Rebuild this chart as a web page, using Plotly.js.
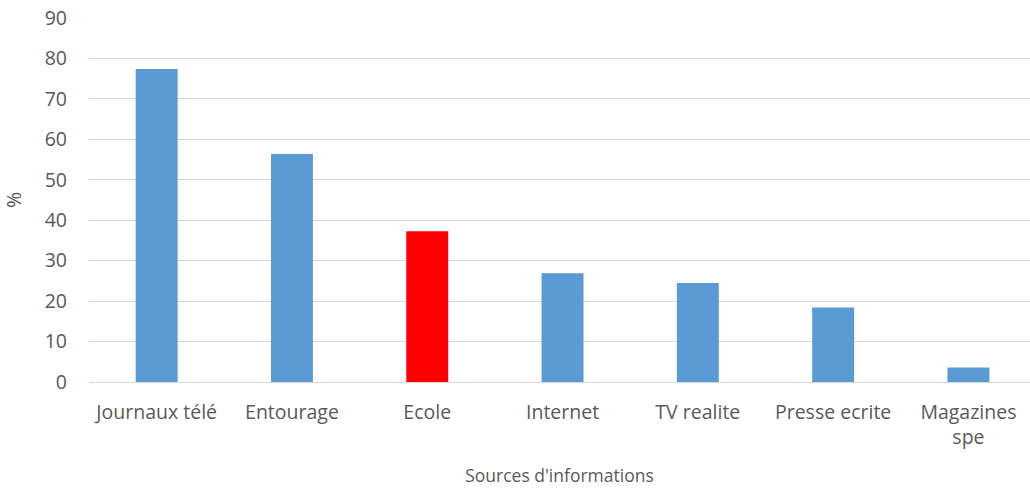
<!DOCTYPE html>
<html>
<head>
<meta charset="utf-8">
<script src="https://cdn.plot.ly/plotly-3.0.1.min.js"></script>
<style>html,body{margin:0;padding:0;background:#fff;}#chart{width:1030px;height:491px;}</style>
</head>
<body>
<div id="chart"></div>
<script>
const categories = ["Journaux télé", "Entourage", "Ecole", "Internet", "TV realite", "Presse ecrite", "Magazines<br>spe"];
const values = [77.4, 56.4, 37.3, 26.9, 24.5, 18.4, 3.6];
const barColors = ["#5B9BD5", "#5B9BD5", "#FF0000", "#5B9BD5", "#5B9BD5", "#5B9BD5", "#5B9BD5"];
const yTicks = [0, 10, 20, 30, 40, 50, 60, 70, 80, 90];

const fam = "Open Sans, Liberation Sans, sans-serif";
const txt = "#595959";

Plotly.newPlot("chart", [{
  type: "bar",
  x: categories,
  y: values,
  width: 0.31,
  marker: {color: barColors, line: {width: 0}},
  hoverinfo: "x+y"
}], {
  width: 1030, height: 491,
  margin: {l: 89, r: 0, t: 18, b: 109},
  paper_bgcolor: "#fff", plot_bgcolor: "#fff",
  showlegend: false,
  font: {family: fam, color: txt},
  xaxis: {
    type: "category",
    range: [-0.5, 6.455],
    tickfont: {family: fam, size: 19.5, color: txt},
    showgrid: false, zeroline: false, showline: false,
    ticks: "", ticklen: 0, ticklabelstandoff: 16,
    title: {text: "Sources d'informations", font: {family: fam, size: 17.5, color: txt}, standoff: 20}
  },
  yaxis: {
    range: [0, 90],
    tickvals: yTicks,
    tickfont: {family: fam, size: 19.5, color: txt},
    showgrid: true, gridcolor: "#D9D9D9", gridwidth: 1.3,
    zeroline: true, zerolinecolor: "#D9D9D9", zerolinewidth: 1.3,
    showline: false, ticks: "", ticklabelstandoff: 21,
    title: {text: "%", font: {family: fam, size: 19.5, color: txt}, standoff: 22}
  }
}, {displayModeBar: false});
</script>
</body>
</html>
